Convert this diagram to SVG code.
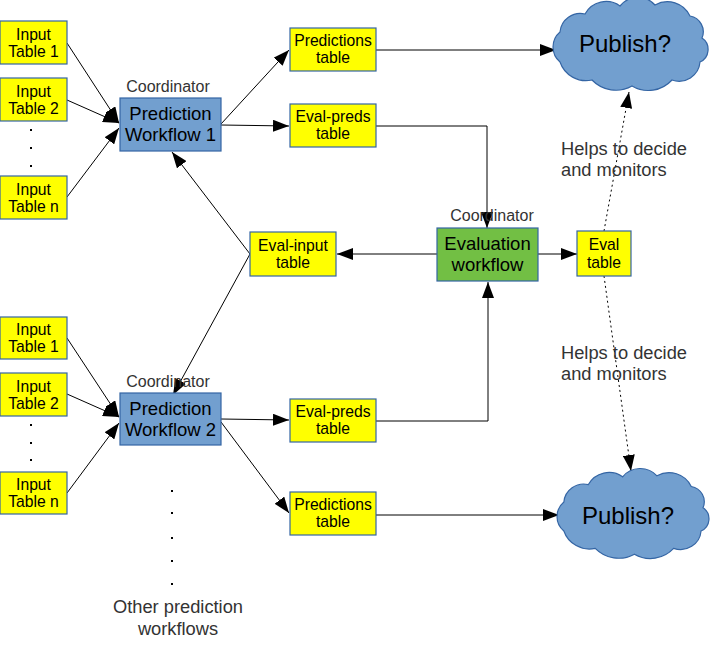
<svg xmlns="http://www.w3.org/2000/svg" width="715" height="645" viewBox="0 0 715 645">
<style>
.tb{fill:#ffff00;stroke:#3465a4;stroke-width:1.2}
.wf{fill:#729fcf;stroke:#3465a4;stroke-width:1.2}
.ev{fill:#72bf44;stroke:#3465a4;stroke-width:1.2}
.cl{fill:#729fcf;stroke:#3465a4;stroke-width:1.2}
text{font-family:"Liberation Sans",Arial,sans-serif;text-anchor:middle;fill:#000}
.t{font-size:15.7px}
.w{font-size:18.5px}
.p{font-size:24px}
.c{font-size:16px;fill:#333}
.h{font-size:18.3px;fill:#333;text-anchor:start}
.o{font-size:18.3px;fill:#333}
.ln{fill:none;stroke:#000;stroke-width:1}
.dl{fill:none;stroke:#000;stroke-width:1;stroke-dasharray:2,3}
.dot{fill:#000}
</style>
<defs>
<marker id="ah" markerUnits="userSpaceOnUse" markerWidth="16" markerHeight="12" refX="16" refY="6" orient="auto">
<path d="M0,0 L16,6 L0,12 z" fill="#000"/>
</marker>
<path id="cloud" d="M7,61 A19.6,19.6 0 0 1 7,31 A20.4,20.4 0 0 1 32,13 A24,24 0 0 1 67,5 A23,23 0 0 1 102,4 A25,25 0 0 1 137,15 A16,16 0 0 1 149,37 A13.8,13.8 0 0 1 147,61 A21,21 0 0 1 119,79 A32,32 0 0 1 79,85 A33,33 0 0 1 39,79 A27.5,27.5 0 0 1 7,61 Z"/>
</defs>

<g id="connectors">
<line class="ln" x1="67" y1="43" x2="119" y2="123" marker-end="url(#ah)"/>
<line class="ln" x1="67" y1="100" x2="119" y2="123" marker-end="url(#ah)"/>
<line class="ln" x1="67" y1="197" x2="119" y2="128" marker-end="url(#ah)"/>
<line class="ln" x1="221" y1="124" x2="289" y2="50" marker-end="url(#ah)"/>
<line class="ln" x1="221" y1="125" x2="289" y2="126" marker-end="url(#ah)"/>
<line class="ln" x1="376" y1="50" x2="556" y2="50" marker-end="url(#ah)"/>
<polyline class="ln" points="376,126 487,126 487,228" marker-end="url(#ah)"/>
<line class="ln" x1="437" y1="254" x2="337" y2="254" marker-end="url(#ah)"/>
<line class="ln" x1="538" y1="254" x2="577" y2="254" marker-end="url(#ah)"/>
<line class="ln" x1="250" y1="254" x2="172" y2="152" marker-end="url(#ah)"/>
<line class="ln" x1="250" y1="254" x2="173" y2="395" marker-end="url(#ah)"/>
<line class="dl" x1="604" y1="231" x2="629" y2="92" marker-end="url(#ah)"/>
<line class="dl" x1="604" y1="276" x2="631" y2="471" marker-end="url(#ah)"/>
<line class="ln" x1="67" y1="338" x2="119" y2="417" marker-end="url(#ah)"/>
<line class="ln" x1="67" y1="394" x2="119" y2="417" marker-end="url(#ah)"/>
<line class="ln" x1="67" y1="493" x2="119" y2="423" marker-end="url(#ah)"/>
<line class="ln" x1="221" y1="419" x2="289" y2="420" marker-end="url(#ah)"/>
<line class="ln" x1="221" y1="422" x2="289" y2="513" marker-end="url(#ah)"/>
<polyline class="ln" points="376,421 488,421 488,282" marker-end="url(#ah)"/>
<line class="ln" x1="376" y1="515" x2="559" y2="515" marker-end="url(#ah)"/>
</g>

<g id="in1a"><rect class="tb" x="0" y="21" width="67" height="43"/><text class="t" x="33.5" y="40">Input</text><text class="t" x="33.5" y="57">Table 1</text></g>
<g id="in2a"><rect class="tb" x="0" y="78" width="67" height="43"/><text class="t" x="33.5" y="97">Input</text><text class="t" x="33.5" y="114">Table 2</text></g>
<g id="dotsa"><rect class="dot" x="30" y="129" width="2" height="2"/><rect class="dot" x="30" y="147" width="2" height="2"/><rect class="dot" x="30" y="165" width="2" height="2"/></g>
<g id="inna"><rect class="tb" x="0" y="176" width="67" height="43"/><text class="t" x="33.5" y="195">Input</text><text class="t" x="33.5" y="212">Table n</text></g>

<g id="pw1"><text class="c" x="168" y="92">Coordinator</text><rect class="wf" x="120" y="98" width="101" height="53"/><text class="w" x="170.5" y="120">Prediction</text><text class="w" x="170.5" y="141">Workflow 1</text></g>

<g id="pred1"><rect class="tb" x="290" y="28" width="86" height="43"/><text class="t" x="333" y="46">Predictions</text><text class="t" x="333" y="63">table</text></g>
<g id="evp1"><rect class="tb" x="290" y="104" width="86" height="43"/><text class="t" x="333" y="122">Eval-preds</text><text class="t" x="333" y="139">table</text></g>

<g id="cloud1"><use href="#cloud" class="cl" transform="translate(553,1)"/><text class="p" x="625" y="52">Publish?</text></g>

<g id="evin"><rect class="tb" x="250" y="232" width="86" height="44"/><text class="t" x="293" y="251">Eval-input</text><text class="t" x="293" y="268">table</text></g>

<g id="evwf"><text class="c" x="492" y="221">Coordinator</text><rect class="ev" x="437" y="228" width="101" height="53"/><text class="w" x="487.5" y="250">Evaluation</text><text class="w" x="487.5" y="271">workflow</text></g>

<g id="evtab"><rect class="tb" x="577" y="231" width="54" height="45"/><text class="t" x="604" y="250">Eval</text><text class="t" x="604" y="268">table</text></g>

<g id="help1"><text class="h" x="561" y="155">Helps to decide</text><text class="h" x="561" y="176">and monitors</text></g>
<g id="help2"><text class="h" x="561" y="359">Helps to decide</text><text class="h" x="561" y="380">and monitors</text></g>

<g id="in1b"><rect class="tb" x="0" y="317" width="67" height="42"/><text class="t" x="33.5" y="335">Input</text><text class="t" x="33.5" y="352">Table 1</text></g>
<g id="in2b"><rect class="tb" x="0" y="373" width="67" height="43"/><text class="t" x="33.5" y="392">Input</text><text class="t" x="33.5" y="409">Table 2</text></g>
<g id="dotsb"><rect class="dot" x="30" y="424" width="2" height="2"/><rect class="dot" x="30" y="442" width="2" height="2"/><rect class="dot" x="30" y="459" width="2" height="2"/></g>
<g id="innb"><rect class="tb" x="0" y="472" width="67" height="42"/><text class="t" x="33.5" y="490">Input</text><text class="t" x="33.5" y="507">Table n</text></g>

<g id="pw2"><text class="c" x="168" y="387">Coordinator</text><rect class="wf" x="120" y="393" width="101" height="52"/><text class="w" x="170.5" y="415">Prediction</text><text class="w" x="170.5" y="436">Workflow 2</text></g>

<g id="evp2"><rect class="tb" x="290" y="399" width="86" height="43"/><text class="t" x="333" y="417">Eval-preds</text><text class="t" x="333" y="434">table</text></g>
<g id="pred2"><rect class="tb" x="290" y="492" width="86" height="43"/><text class="t" x="333" y="510">Predictions</text><text class="t" x="333" y="527">table</text></g>

<g id="cloud2"><use href="#cloud" class="cl" transform="translate(557,472) scale(0.98,0.967)"/><text class="p" x="628" y="524">Publish?</text></g>

<g id="others"><rect class="dot" x="171" y="490" width="2" height="2"/><rect class="dot" x="171" y="512" width="2" height="2"/><rect class="dot" x="171" y="537" width="2" height="2"/><rect class="dot" x="171" y="560" width="2" height="2"/><rect class="dot" x="171" y="583" width="2" height="2"/><text class="o" x="178" y="613">Other prediction</text><text class="o" x="178" y="635">workflows</text></g>
</svg>
